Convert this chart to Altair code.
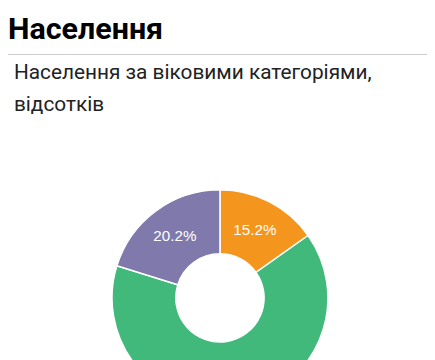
import altair as alt
import pandas as pd

# Data
categories = ["0-14", "15-64", "65+"]
values = [15.2, 64.6, 20.2]
colors = ["#F4961E", "#41B97A", "#7F7AAB"]
title_text = "Населення"
subtitle_lines = ["Населення за віковими категоріями,", "відсотків"]

df = pd.DataFrame({
    "cat": categories,
    "val": values,
    "idx": list(range(len(categories))),
    "label": [f"{v:.1f}%" for v in values],
})

CX, CY = 216, 292

base = alt.Chart(df).encode(
    theta=alt.Theta("val:Q", stack=True),
    order=alt.Order("idx:Q"),
    x=alt.value(CX),
    y=alt.value(CY),
)

arcs = base.mark_arc(outerRadius=110, innerRadius=45, stroke="white", strokeWidth=1.5).encode(
    color=alt.Color("cat:N", scale=alt.Scale(domain=categories, range=colors), legend=None)
)

labels = base.mark_text(radius=77.5, font="Liberation Sans", fontSize=15.5, color="white",
                        align="center", baseline="middle").encode(text="label:N")

one = pd.DataFrame({"k": [0]})

title = alt.Chart(one).mark_text(
    text=title_text, font="Roboto", fontWeight="bold", fontSize=31, color="#000000",
    align="left", baseline="alphabetic"
).encode(x=alt.value(0), y=alt.value(28))

rule = alt.Chart(one).mark_rule(color="#cccccc", strokeWidth=1).encode(
    x=alt.value(0), x2=alt.value(427), y=alt.value(44)
)

subtitle = alt.Chart(one).mark_text(
    text=subtitle_lines, font="Roboto", fontSize=21.2, color="#222222",
    align="left", baseline="alphabetic", lineHeight=33
).encode(x=alt.value(6), y=alt.value(69))

chart = alt.layer(arcs, labels, title, rule, subtitle).properties(
    width=427, height=352, padding=0, autosize=alt.AutoSizeParams(type="none")
).configure_view(stroke=None)

chart.save("out.html", embed_options={"renderer": "svg", "actions": False})
